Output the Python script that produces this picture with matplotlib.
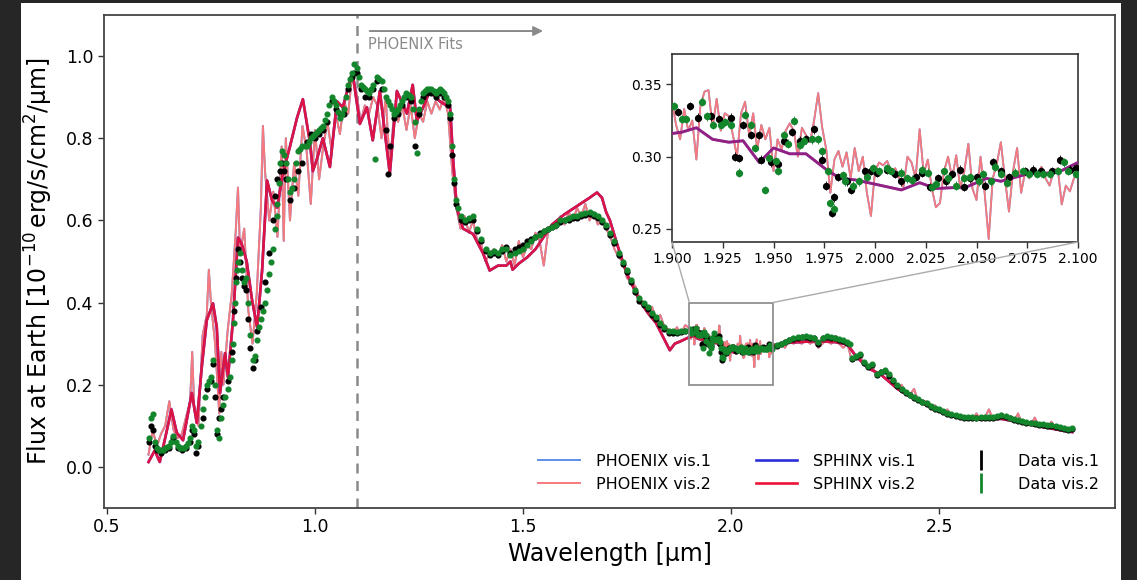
import matplotlib
matplotlib.use("Agg")
import matplotlib.pyplot as plt
from matplotlib.patches import Rectangle, ConnectionPatch
from matplotlib.lines import Line2D
from matplotlib.ticker import FormatStrFormatter

plt.rcParams['font.family'] = ['DejaVu Sans']

# ---------------- data (wavelength [um], flux [1e-10 erg/s/cm2/um]) ----------------
data_vis2_lo = [
    (0.600, 0.070), (0.605, 0.120), (0.610, 0.130), (0.615, 0.060), (0.620, 0.045), (0.625, 0.042),
    (0.630, 0.040), (0.635, 0.042), (0.640, 0.045), (0.645, 0.048), (0.650, 0.050), (0.655, 0.060),
    (0.660, 0.075), (0.665, 0.060), (0.670, 0.050), (0.675, 0.046), (0.680, 0.045), (0.685, 0.047),
    (0.690, 0.050), (0.695, 0.058), (0.700, 0.070), (0.705, 0.100), (0.710, 0.090), (0.715, 0.050),
    (0.720, 0.060), (0.725, 0.100), (0.730, 0.140), (0.735, 0.170), (0.740, 0.200), (0.745, 0.210),
    (0.750, 0.220), (0.755, 0.260), (0.760, 0.200), (0.765, 0.090), (0.770, 0.070), (0.775, 0.120),
    (0.780, 0.150), (0.785, 0.170), (0.790, 0.190), (0.795, 0.220), (0.800, 0.260), (0.803, 0.300),
    (0.805, 0.350), (0.808, 0.400), (0.810, 0.450), (0.813, 0.480), (0.815, 0.500), (0.820, 0.520),
    (0.825, 0.480), (0.830, 0.450), (0.835, 0.460), (0.840, 0.400), (0.845, 0.320), (0.850, 0.260),
    (0.855, 0.270), (0.860, 0.310), (0.865, 0.340), (0.870, 0.360), (0.875, 0.380), (0.880, 0.400),
    (0.885, 0.430), (0.890, 0.470), (0.895, 0.500), (0.900, 0.530), (0.905, 0.580), (0.908, 0.610),
    (0.910, 0.640), (0.913, 0.690), (0.915, 0.740), (0.920, 0.770), (0.925, 0.760), (0.930, 0.740),
    (0.935, 0.700), (0.940, 0.670), (0.945, 0.680), (0.950, 0.700), (0.955, 0.740), (0.960, 0.770),
    (0.965, 0.775), (0.970, 0.780), (0.975, 0.780), (0.980, 0.780), (0.985, 0.790), (0.990, 0.800),
    (0.995, 0.805), (1.000, 0.810), (1.005, 0.815), (1.010, 0.820), (1.015, 0.825), (1.020, 0.830),
    (1.025, 0.845), (1.030, 0.860), (1.035, 0.880), (1.040, 0.900), (1.045, 0.890), (1.050, 0.880),
    (1.055, 0.865), (1.060, 0.850), (1.065, 0.860), (1.070, 0.870), (1.075, 0.900), (1.080, 0.930),
    (1.085, 0.945), (1.090, 0.960), (1.095, 0.980), (1.100, 0.970), (1.105, 0.950), (1.110, 0.930),
    (1.115, 0.925), (1.120, 0.920), (1.125, 0.915), (1.130, 0.910), (1.135, 0.920), (1.140, 0.930),
    (1.145, 0.750), (1.150, 0.950), (1.155, 0.945), (1.160, 0.940), (1.165, 0.920), (1.170, 0.900),
    (1.175, 0.890), (1.180, 0.880), (1.185, 0.870), (1.190, 0.860), (1.195, 0.865), (1.200, 0.870),
    (1.205, 0.880), (1.210, 0.890), (1.215, 0.900), (1.220, 0.910), (1.225, 0.905), (1.230, 0.900),
    (1.235, 0.870), (1.240, 0.840), (1.245, 0.765), (1.250, 0.870), (1.255, 0.890), (1.260, 0.910),
    (1.265, 0.915), (1.270, 0.920), (1.275, 0.920), (1.280, 0.920), (1.285, 0.915), (1.290, 0.910),
    (1.295, 0.915), (1.300, 0.920), (1.305, 0.915), (1.310, 0.910), (1.315, 0.900), (1.320, 0.890),
    (1.325, 0.860), (1.330, 0.780), (1.335, 0.700), (1.340, 0.650), (1.345, 0.630), (1.350, 0.610),
    (1.360, 0.600), (1.370, 0.605), (1.380, 0.610), (1.390, 0.580), (1.400, 0.555), (1.410, 0.530),
    (1.420, 0.520), (1.430, 0.525), (1.440, 0.520), (1.450, 0.530), (1.460, 0.530), (1.470, 0.515),
    (1.480, 0.520), (1.490, 0.525), (1.500, 0.530), (1.510, 0.540), (1.520, 0.550), (1.530, 0.560),
    (1.540, 0.565), (1.550, 0.575), (1.560, 0.580), (1.570, 0.585), (1.580, 0.590), (1.590, 0.600),
    (1.600, 0.600), (1.610, 0.605), (1.620, 0.610), (1.630, 0.610), (1.640, 0.615), (1.650, 0.617),
    (1.660, 0.620), (1.670, 0.615), (1.680, 0.610), (1.690, 0.600), (1.700, 0.590), (1.710, 0.570),
    (1.720, 0.550), (1.730, 0.520), (1.740, 0.500), (1.750, 0.480), (1.760, 0.455), (1.770, 0.430),
    (1.780, 0.410), (1.790, 0.400), (1.800, 0.390), (1.810, 0.375), (1.820, 0.365), (1.830, 0.350),
    (1.840, 0.340), (1.850, 0.330), (1.860, 0.330), (1.870, 0.328), (1.880, 0.330), (1.890, 0.332),
]
data_vis2_zoom = [
    (1.901, 0.335), (1.905, 0.326), (1.907, 0.326), (1.915, 0.338), (1.917, 0.328), (1.920, 0.322),
    (1.924, 0.322), (1.926, 0.324), (1.929, 0.322), (1.933, 0.289), (1.936, 0.329), (1.939, 0.322),
    (1.941, 0.306), (1.946, 0.277), (1.948, 0.299), (1.951, 0.297), (1.952, 0.290), (1.955, 0.315),
    (1.957, 0.309), (1.960, 0.325), (1.963, 0.308), (1.965, 0.311), (1.969, 0.312), (1.972, 0.312),
    (1.974, 0.304), (1.977, 0.290), (1.978, 0.268), (1.980, 0.264), (1.984, 0.287), (1.985, 0.283),
    (1.989, 0.280), (1.992, 0.283), (1.996, 0.286), (1.999, 0.292), (2.002, 0.290), (2.006, 0.292),
    (2.008, 0.290), (2.013, 0.289), (2.016, 0.285), (2.018, 0.284), (2.023, 0.291), (2.026, 0.289),
    (2.028, 0.279), (2.030, 0.281), (2.034, 0.290), (2.036, 0.285), (2.040, 0.280), (2.044, 0.285),
    (2.047, 0.286), (2.051, 0.283), (2.053, 0.288), (2.057, 0.283), (2.059, 0.293), (2.062, 0.288),
    (2.065, 0.282), (2.069, 0.289), (2.073, 0.290), (2.076, 0.288), (2.080, 0.288), (2.083, 0.288),
    (2.086, 0.288), (2.090, 0.290), (2.093, 0.296), (2.095, 0.290), (2.099, 0.288),
]
data_vis2_hi = [
    (2.110, 0.297), (2.120, 0.300), (2.130, 0.305), (2.140, 0.310), (2.150, 0.313), (2.160, 0.316),
    (2.170, 0.317), (2.180, 0.318), (2.190, 0.317), (2.200, 0.315), (2.210, 0.305), (2.220, 0.315),
    (2.230, 0.318), (2.240, 0.317), (2.250, 0.315), (2.260, 0.312), (2.270, 0.308), (2.280, 0.303),
    (2.285, 0.300), (2.290, 0.265), (2.300, 0.270), (2.310, 0.275), (2.320, 0.255), (2.330, 0.245),
    (2.340, 0.250), (2.350, 0.226), (2.360, 0.232), (2.370, 0.236), (2.380, 0.225), (2.390, 0.212),
    (2.400, 0.200), (2.410, 0.190), (2.420, 0.182), (2.430, 0.176), (2.440, 0.170), (2.450, 0.165),
    (2.460, 0.159), (2.470, 0.155), (2.480, 0.149), (2.490, 0.144), (2.500, 0.140), (2.510, 0.135),
    (2.520, 0.132), (2.530, 0.129), (2.540, 0.126), (2.550, 0.124), (2.560, 0.122), (2.570, 0.121),
    (2.580, 0.121), (2.590, 0.120), (2.600, 0.121), (2.610, 0.121), (2.620, 0.122), (2.630, 0.122),
    (2.640, 0.123), (2.650, 0.127), (2.660, 0.124), (2.670, 0.120), (2.680, 0.116), (2.690, 0.114),
    (2.700, 0.112), (2.710, 0.110), (2.720, 0.108), (2.730, 0.107), (2.740, 0.105), (2.750, 0.104),
    (2.760, 0.102), (2.770, 0.101), (2.780, 0.099), (2.790, 0.097), (2.800, 0.094), (2.810, 0.092),
    (2.820, 0.094),
]

data_vis1_lo = [
    (0.600, 0.060), (0.605, 0.100), (0.610, 0.090), (0.615, 0.050), (0.620, 0.040), (0.630, 0.035),
    (0.640, 0.040), (0.650, 0.045), (0.660, 0.070), (0.670, 0.045), (0.680, 0.040), (0.690, 0.045),
    (0.700, 0.060), (0.705, 0.090), (0.710, 0.080), (0.715, 0.035), (0.720, 0.050), (0.730, 0.120),
    (0.740, 0.190), (0.750, 0.210), (0.755, 0.250), (0.760, 0.170), (0.765, 0.080), (0.770, 0.120),
    (0.775, 0.140), (0.780, 0.170), (0.790, 0.210), (0.800, 0.280), (0.805, 0.380), (0.810, 0.460),
    (0.815, 0.530), (0.820, 0.500), (0.825, 0.460), (0.830, 0.440), (0.835, 0.430), (0.840, 0.360),
    (0.845, 0.290), (0.850, 0.240), (0.855, 0.260), (0.860, 0.330), (0.870, 0.390), (0.880, 0.450),
    (0.890, 0.520), (0.900, 0.600), (0.905, 0.660), (0.910, 0.700), (0.915, 0.720), (0.920, 0.740),
    (0.925, 0.720), (0.930, 0.700), (0.940, 0.650), (0.950, 0.680), (0.960, 0.720), (0.970, 0.740),
    (0.980, 0.790), (0.990, 0.810), (1.000, 0.800), (1.010, 0.810), (1.020, 0.820), (1.030, 0.840),
    (1.040, 0.890), (1.050, 0.870), (1.060, 0.860), (1.070, 0.860), (1.080, 0.920), (1.090, 0.950),
    (1.095, 0.960), (1.100, 0.960), (1.110, 0.920), (1.120, 0.900), (1.130, 0.900), (1.140, 0.920),
    (1.150, 0.940), (1.160, 0.920), (1.170, 0.820), (1.175, 0.713), (1.180, 0.780), (1.190, 0.850),
    (1.200, 0.860), (1.210, 0.880), (1.220, 0.900), (1.230, 0.890), (1.240, 0.780), (1.250, 0.860),
    (1.260, 0.900), (1.270, 0.910), (1.280, 0.910), (1.290, 0.900), (1.300, 0.910), (1.310, 0.900),
    (1.320, 0.880), (1.325, 0.850), (1.330, 0.760), (1.335, 0.690), (1.340, 0.640), (1.350, 0.600),
    (1.360, 0.595), (1.370, 0.600), (1.380, 0.600), (1.390, 0.575), (1.400, 0.550), (1.410, 0.525),
    (1.420, 0.515), (1.430, 0.520), (1.440, 0.515), (1.450, 0.525), (1.460, 0.535), (1.470, 0.520),
    (1.480, 0.530), (1.490, 0.535), (1.500, 0.540), (1.510, 0.550), (1.520, 0.555), (1.530, 0.560),
    (1.540, 0.570), (1.550, 0.575), (1.560, 0.580), (1.570, 0.585), (1.580, 0.590), (1.590, 0.595),
    (1.600, 0.600), (1.610, 0.600), (1.620, 0.605), (1.630, 0.605), (1.640, 0.610), (1.650, 0.612),
    (1.660, 0.615), (1.670, 0.610), (1.680, 0.605), (1.690, 0.595), (1.700, 0.585), (1.710, 0.565),
    (1.720, 0.545), (1.730, 0.515), (1.740, 0.495), (1.750, 0.475), (1.760, 0.450), (1.770, 0.425),
    (1.780, 0.405), (1.790, 0.395), (1.800, 0.385), (1.810, 0.370), (1.820, 0.360), (1.830, 0.345),
    (1.840, 0.335), (1.850, 0.325), (1.860, 0.325), (1.870, 0.325), (1.880, 0.328), (1.890, 0.330),
]
data_vis1_zoom = [
    (1.903, 0.331), (1.909, 0.335), (1.913, 0.327), (1.919, 0.328), (1.923, 0.326), (1.929, 0.327),
    (1.931, 0.300), (1.933, 0.299), (1.935, 0.322), (1.939, 0.315), (1.943, 0.315), (1.944, 0.298),
    (1.949, 0.296), (1.952, 0.295), (1.955, 0.311), (1.959, 0.317), (1.963, 0.311), (1.966, 0.312),
    (1.970, 0.319), (1.974, 0.298), (1.976, 0.280), (1.979, 0.261), (1.980, 0.272), (1.982, 0.286),
    (1.986, 0.283), (1.988, 0.277), (1.995, 0.290), (1.998, 0.290), (2.001, 0.289), (2.006, 0.291),
    (2.010, 0.288), (2.013, 0.283), (2.020, 0.286), (2.023, 0.289), (2.027, 0.279), (2.031, 0.285),
    (2.035, 0.283), (2.038, 0.288), (2.042, 0.291), (2.044, 0.279), (2.047, 0.285), (2.050, 0.286),
    (2.054, 0.280), (2.058, 0.296), (2.062, 0.290), (2.066, 0.286), (2.074, 0.290), (2.078, 0.291),
    (2.082, 0.290), (2.087, 0.290), (2.091, 0.298), (2.096, 0.291), (2.099, 0.292),
]
data_vis1_hi = [
    (2.110, 0.294), (2.120, 0.298), (2.130, 0.303), (2.140, 0.308), (2.150, 0.311), (2.160, 0.314),
    (2.170, 0.316), (2.180, 0.316), (2.190, 0.315), (2.200, 0.313), (2.210, 0.300), (2.220, 0.313),
    (2.230, 0.316), (2.240, 0.315), (2.250, 0.313), (2.260, 0.310), (2.270, 0.306), (2.280, 0.301),
    (2.290, 0.262), (2.300, 0.268), (2.310, 0.272), (2.320, 0.252), (2.330, 0.243), (2.340, 0.247),
    (2.350, 0.223), (2.360, 0.230), (2.370, 0.233), (2.380, 0.222), (2.390, 0.210), (2.400, 0.198),
    (2.410, 0.188), (2.420, 0.180), (2.430, 0.174), (2.440, 0.168), (2.450, 0.163), (2.460, 0.157),
    (2.470, 0.153), (2.480, 0.147), (2.490, 0.142), (2.500, 0.138), (2.510, 0.133), (2.520, 0.130),
    (2.530, 0.127), (2.540, 0.124), (2.550, 0.122), (2.560, 0.120), (2.570, 0.119), (2.580, 0.119),
    (2.590, 0.118), (2.600, 0.119), (2.610, 0.119), (2.620, 0.120), (2.630, 0.120), (2.640, 0.121),
    (2.650, 0.124), (2.660, 0.122), (2.670, 0.118), (2.680, 0.114), (2.690, 0.112), (2.700, 0.110),
    (2.710, 0.108), (2.720, 0.106), (2.730, 0.105), (2.740, 0.103), (2.750, 0.102), (2.760, 0.100),
    (2.770, 0.099), (2.780, 0.097), (2.790, 0.095), (2.800, 0.092), (2.810, 0.090), (2.820, 0.092),
]
data_err = 0.003

phoenix_lo = [
    (0.600, 0.030), (0.610, 0.090), (0.620, 0.050), (0.630, 0.080), (0.640, 0.100), (0.650, 0.160),
    (0.660, 0.090), (0.670, 0.070), (0.680, 0.080), (0.690, 0.120), (0.700, 0.160), (0.705, 0.280),
    (0.710, 0.140), (0.720, 0.100), (0.730, 0.320), (0.740, 0.370), (0.745, 0.480), (0.750, 0.400),
    (0.760, 0.300), (0.770, 0.130), (0.775, 0.280), (0.780, 0.200), (0.790, 0.330), (0.800, 0.420),
    (0.810, 0.580), (0.815, 0.680), (0.820, 0.520), (0.830, 0.580), (0.840, 0.380), (0.850, 0.300),
    (0.860, 0.420), (0.870, 0.630), (0.875, 0.830), (0.880, 0.720), (0.890, 0.600), (0.900, 0.670),
    (0.910, 0.560), (0.920, 0.780), (0.925, 0.550), (0.930, 0.800), (0.940, 0.600), (0.950, 0.740),
    (0.960, 0.660), (0.970, 0.830), (0.980, 0.770), (0.990, 0.640), (1.000, 0.820), (1.010, 0.700),
    (1.020, 0.780), (1.030, 0.840), (1.040, 0.770), (1.050, 0.860), (1.060, 0.810), (1.070, 0.890),
    (1.080, 0.860), (1.090, 0.960), (1.100, 0.910), (1.110, 0.840), (1.120, 0.880), (1.130, 0.860),
    (1.140, 0.900), (1.150, 0.880), (1.160, 0.800), (1.170, 0.900), (1.180, 0.730), (1.190, 0.860),
    (1.200, 0.840), (1.210, 0.880), (1.220, 0.820), (1.230, 0.880), (1.240, 0.800), (1.250, 0.860),
    (1.260, 0.840), (1.270, 0.890), (1.280, 0.860), (1.290, 0.890), (1.300, 0.870), (1.310, 0.900),
    (1.320, 0.860), (1.330, 0.720), (1.340, 0.630), (1.350, 0.580), (1.360, 0.610), (1.370, 0.570),
    (1.380, 0.600), (1.390, 0.550), (1.400, 0.540), (1.410, 0.500), (1.420, 0.520), (1.430, 0.530),
    (1.440, 0.510), (1.450, 0.540), (1.460, 0.500), (1.470, 0.530), (1.480, 0.490), (1.490, 0.550),
    (1.500, 0.510), (1.510, 0.540), (1.520, 0.530), (1.530, 0.570), (1.540, 0.550), (1.550, 0.490),
    (1.560, 0.570), (1.570, 0.590), (1.580, 0.580), (1.590, 0.610), (1.600, 0.590), (1.610, 0.620),
    (1.620, 0.600), (1.630, 0.630), (1.640, 0.610), (1.650, 0.640), (1.660, 0.600), (1.670, 0.620),
    (1.680, 0.590), (1.690, 0.600), (1.700, 0.580), (1.710, 0.560), (1.720, 0.530), (1.730, 0.510),
    (1.740, 0.500), (1.750, 0.460), (1.760, 0.450), (1.770, 0.440), (1.780, 0.410), (1.790, 0.400),
    (1.800, 0.380), (1.810, 0.390), (1.820, 0.360), (1.830, 0.370), (1.840, 0.340), (1.850, 0.335),
    (1.860, 0.320), (1.870, 0.340), (1.880, 0.325), (1.890, 0.345),
]
phoenix_zoom = [
    (1.900, 0.338), (1.902, 0.322), (1.904, 0.312), (1.906, 0.333), (1.908, 0.318), (1.910, 0.325),
    (1.912, 0.298), (1.914, 0.335), (1.916, 0.345), (1.918, 0.346), (1.920, 0.320), (1.922, 0.340),
    (1.924, 0.318), (1.926, 0.330), (1.928, 0.328), (1.930, 0.315), (1.932, 0.300), (1.934, 0.330),
    (1.936, 0.338), (1.938, 0.315), (1.940, 0.330), (1.942, 0.305), (1.944, 0.322), (1.946, 0.312),
    (1.948, 0.320), (1.950, 0.290), (1.952, 0.312), (1.954, 0.305), (1.956, 0.318), (1.958, 0.323),
    (1.960, 0.318), (1.962, 0.300), (1.964, 0.320), (1.966, 0.315), (1.968, 0.310), (1.970, 0.325),
    (1.972, 0.344), (1.974, 0.320), (1.976, 0.305), (1.978, 0.275), (1.980, 0.298), (1.982, 0.304),
    (1.984, 0.293), (1.986, 0.303), (1.988, 0.285), (1.990, 0.306), (1.992, 0.290), (1.994, 0.300),
    (1.996, 0.275), (1.998, 0.259), (2.000, 0.290), (2.002, 0.296), (2.004, 0.294), (2.006, 0.297),
    (2.008, 0.290), (2.010, 0.292), (2.012, 0.285), (2.014, 0.279), (2.016, 0.300), (2.018, 0.296),
    (2.020, 0.285), (2.022, 0.319), (2.024, 0.288), (2.026, 0.298), (2.028, 0.278), (2.030, 0.265),
    (2.032, 0.268), (2.034, 0.290), (2.036, 0.300), (2.038, 0.285), (2.040, 0.301), (2.042, 0.278),
    (2.044, 0.290), (2.046, 0.309), (2.048, 0.278), (2.050, 0.270), (2.052, 0.300), (2.054, 0.275),
    (2.056, 0.243), (2.058, 0.285), (2.060, 0.295), (2.062, 0.310), (2.064, 0.285), (2.066, 0.262),
    (2.068, 0.290), (2.070, 0.306), (2.072, 0.275), (2.074, 0.290), (2.076, 0.285), (2.078, 0.292),
    (2.080, 0.288), (2.082, 0.293), (2.084, 0.285), (2.086, 0.280), (2.088, 0.290), (2.090, 0.292),
    (2.092, 0.267), (2.094, 0.280), (2.096, 0.276), (2.098, 0.285), (2.100, 0.290),
]
phoenix_hi = [
    (2.110, 0.290), (2.120, 0.300), (2.130, 0.290), (2.140, 0.310), (2.150, 0.300), (2.160, 0.305),
    (2.170, 0.300), (2.180, 0.310), (2.190, 0.300), (2.200, 0.305), (2.210, 0.290), (2.220, 0.300),
    (2.230, 0.310), (2.240, 0.300), (2.250, 0.305), (2.260, 0.300), (2.270, 0.290), (2.280, 0.300),
    (2.290, 0.260), (2.300, 0.265), (2.310, 0.270), (2.320, 0.250), (2.330, 0.240), (2.340, 0.245),
    (2.350, 0.220), (2.360, 0.235), (2.370, 0.230), (2.380, 0.220), (2.390, 0.210), (2.400, 0.190),
    (2.410, 0.200), (2.420, 0.180), (2.430, 0.175), (2.440, 0.190), (2.450, 0.160), (2.460, 0.155),
    (2.470, 0.160), (2.480, 0.145), (2.490, 0.150), (2.500, 0.135), (2.510, 0.130), (2.520, 0.140),
    (2.530, 0.125), (2.540, 0.120), (2.550, 0.125), (2.560, 0.115), (2.570, 0.120), (2.580, 0.115),
    (2.590, 0.130), (2.600, 0.115), (2.610, 0.120), (2.620, 0.140), (2.630, 0.115), (2.640, 0.120),
    (2.650, 0.130), (2.660, 0.120), (2.670, 0.115), (2.680, 0.110), (2.690, 0.130), (2.700, 0.105),
    (2.710, 0.110), (2.720, 0.100), (2.730, 0.120), (2.740, 0.100), (2.750, 0.105), (2.760, 0.095),
    (2.770, 0.110), (2.780, 0.095), (2.790, 0.100), (2.800, 0.090), (2.810, 0.095), (2.820, 0.085),
]

sphinx_lo = [
    (0.600, 0.012), (0.615, 0.040), (0.627, 0.012), (0.640, 0.070), (0.655, 0.140), (0.668, 0.083),
    (0.683, 0.065), (0.704, 0.180), (0.716, 0.107), (0.728, 0.243), (0.740, 0.357), (0.755, 0.398),
    (0.764, 0.340), (0.772, 0.180), (0.784, 0.277), (0.791, 0.218), (0.803, 0.357), (0.815, 0.558),
    (0.824, 0.543), (0.836, 0.500), (0.849, 0.405), (0.861, 0.340), (0.873, 0.478), (0.885, 0.697),
    (0.897, 0.648), (0.909, 0.631), (0.923, 0.714), (0.940, 0.780), (0.957, 0.850), (0.971, 0.895),
    (0.988, 0.790), (0.995, 0.720), (1.005, 0.750), (1.019, 0.800), (1.036, 0.730), (1.053, 0.890),
    (1.067, 0.875), (1.084, 0.940), (1.091, 0.955), (1.108, 0.835), (1.125, 0.875), (1.139, 0.795),
    (1.156, 0.915), (1.180, 0.714), (1.197, 0.915), (1.221, 0.860), (1.235, 0.930), (1.245, 0.842),
    (1.260, 0.875), (1.276, 0.915), (1.300, 0.890), (1.325, 0.874), (1.332, 0.750), (1.341, 0.630),
    (1.356, 0.580), (1.380, 0.567), (1.404, 0.520), (1.420, 0.478), (1.440, 0.490), (1.460, 0.490),
    (1.470, 0.500), (1.475, 0.480), (1.490, 0.495), (1.510, 0.510), (1.530, 0.530), (1.550, 0.560),
    (1.570, 0.590), (1.600, 0.615), (1.630, 0.635), (1.660, 0.655), (1.678, 0.668), (1.690, 0.655),
    (1.700, 0.620), (1.709, 0.600), (1.730, 0.530), (1.750, 0.470), (1.780, 0.405), (1.800, 0.375),
    (1.820, 0.350), (1.840, 0.310), (1.853, 0.284), (1.865, 0.300), (1.877, 0.305),
]
sphinx_zoom = [
    (1.900, 0.316), (1.905, 0.317), (1.912, 0.320), (1.920, 0.312), (1.928, 0.310), (1.935, 0.311),
    (1.943, 0.296), (1.950, 0.306), (1.958, 0.302), (1.966, 0.302), (1.977, 0.290), (1.983, 0.285),
    (1.990, 0.284), (2.000, 0.281), (2.013, 0.277), (2.022, 0.282), (2.030, 0.278), (2.045, 0.279),
    (2.055, 0.285), (2.062, 0.283), (2.075, 0.288), (2.090, 0.289), (2.100, 0.296),
]
sphinx_hi = [
    (2.120, 0.300), (2.150, 0.303), (2.200, 0.306), (2.250, 0.304), (2.280, 0.298), (2.300, 0.270),
    (2.330, 0.240), (2.360, 0.225), (2.400, 0.190), (2.450, 0.160), (2.500, 0.135), (2.550, 0.120),
    (2.600, 0.115), (2.650, 0.117), (2.700, 0.107), (2.750, 0.097), (2.800, 0.088), (2.820, 0.085),
]

legend_labels = ["PHOENIX vis.1", "PHOENIX vis.2", "SPHINX vis.1", "SPHINX vis.2",
                 "Data vis.1", "Data vis.2"]
fit_start = 1.1
zoom_x = (1.9, 2.1)
zoom_box_y = (0.2, 0.4)


def unzip(pairs):
    return [p[0] for p in pairs], [p[1] for p in pairs]


d1_wl, d1_fl = unzip(data_vis1_lo + data_vis1_zoom + data_vis1_hi)
d2_wl, d2_fl = unzip(data_vis2_lo + data_vis2_zoom + data_vis2_hi)
ph_wl, ph_fl = unzip(phoenix_lo + phoenix_zoom + phoenix_hi)
sp_wl, sp_fl = unzip(sphinx_lo + sphinx_zoom + sphinx_hi)

C_PH1 = "#5d8fe6"
C_PH2 = "#f47a7e"
C_SP1 = "#2c2fd8"
C_SP2 = "#ec1238"
C_D1 = "#000000"
C_D2 = "#13862c"

W, H = 1137, 580
fig = plt.figure(figsize=(W / 100, H / 100), dpi=100, facecolor="#262626")
fig.add_artist(Rectangle((21 / W, 0), 1100 / W, 577 / H, transform=fig.transFigure,
                         facecolor="white", edgecolor="none", zorder=-10))

ax = fig.add_axes([104 / W, 1 - 508 / H, (1115 - 104) / W, (508 - 15) / H])
ax.set_facecolor("white")


def draw(a, ms, lw_model, lw_sph, alpha_sph, lw_err):
    h1, = a.plot(ph_wl, ph_fl, color=C_PH1, lw=lw_model, zorder=2)
    h2, = a.plot(ph_wl, ph_fl, color=C_PH2, lw=lw_model, zorder=2.1)
    h3, = a.plot(sp_wl, sp_fl, color=C_SP1, lw=lw_sph, zorder=3)
    a.plot(sp_wl, sp_fl, color=C_SP2, lw=lw_sph, alpha=alpha_sph, zorder=3.1)
    a.errorbar(d1_wl, d1_fl, yerr=data_err, fmt="o", ms=ms, color=C_D1,
               elinewidth=lw_err, capsize=0, zorder=4)
    a.errorbar(d2_wl, d2_fl, yerr=data_err, fmt="o", ms=ms, color=C_D2,
               elinewidth=lw_err, capsize=0, zorder=4.1)
    return h1, h2, h3


h1, h2, h3 = draw(ax, 3.4, 1.4, 1.9, 0.93, 1.0)
h4 = Line2D([], [], color=C_SP2, lw=1.9)
h5 = Line2D([], [], color=C_D1, marker="|", ls="none", ms=15, mew=2)
h6 = Line2D([], [], color=C_D2, marker="|", ls="none", ms=15, mew=2)

ax.set_xlim(0.493, 2.923)
ax.set_ylim(-0.1, 1.1)
ax.set_xticks([0.5, 1.0, 1.5, 2.0, 2.5])
ax.set_yticks([0.0, 0.2, 0.4, 0.6, 0.8, 1.0])
ax.xaxis.set_major_formatter(FormatStrFormatter("%.1f"))
ax.yaxis.set_major_formatter(FormatStrFormatter("%.1f"))
ax.tick_params(labelsize=12.5, length=4, width=1, color="#333333")
for s in ax.spines.values():
    s.set_color("#444444")
    s.set_linewidth(1.3)
ax.set_xlabel("Wavelength [μm]", fontsize=17, labelpad=4)
ax.set_ylabel(r"Flux at Earth [$10^{-10}\,$erg/s/cm$^2$/μm]", fontsize=17, labelpad=8)

ax.axvline(fit_start, color="#8a8a8a", lw=1.8, ls=(0, (4, 3)), zorder=1)
ax.annotate("", xy=(1.555, 1.061), xytext=(1.125, 1.061),
            arrowprops=dict(arrowstyle="-|>", color="#8a8a8a", lw=1.4, mutation_scale=14))
ax.text(1.128, 1.027, "PHOENIX Fits", color="#8a8a8a", fontsize=10.5, ha="left", va="center")

ax.legend([h1, h2, h3, h4, h5, h6], legend_labels, ncol=3, loc="lower right", frameon=False,
          fontsize=11.5, handlelength=2.6, handletextpad=1.0, columnspacing=2.8,
          labelspacing=0.5, borderaxespad=0.6)

# zoom box
ax.add_patch(Rectangle((zoom_x[0], zoom_box_y[0]), zoom_x[1] - zoom_x[0],
                       zoom_box_y[1] - zoom_box_y[0], fill=False, edgecolor="#888888",
                       lw=1.2, zorder=5))

# inset
axins = fig.add_axes([672 / W, 1 - 242 / H, (1078 - 672) / W, (242 - 54) / H])
draw(axins, 4.2, 1.3, 2.0, 0.55, 0.6)
axins.set_xlim(*zoom_x)
axins.set_ylim(0.241, 0.371)
axins.set_xticks([1.900, 1.925, 1.950, 1.975, 2.000, 2.025, 2.050, 2.075, 2.100])
axins.set_yticks([0.25, 0.30, 0.35])
axins.xaxis.set_major_formatter(FormatStrFormatter("%.3f"))
axins.yaxis.set_major_formatter(FormatStrFormatter("%.2f"))
axins.tick_params(labelsize=10, length=4, width=1, color="#333333")
for s in axins.spines.values():
    s.set_color("#333333")
    s.set_linewidth(1.2)

for xa in zoom_x:
    cp = ConnectionPatch(xyA=(xa, zoom_box_y[1]), coordsA=ax.transData,
                         xyB=(xa, 0.241), coordsB=axins.transData,
                         color="#aaaaaa", lw=1.0, zorder=6)
    fig.add_artist(cp)

fig.savefig("out.png", dpi=100, facecolor=fig.get_facecolor())
